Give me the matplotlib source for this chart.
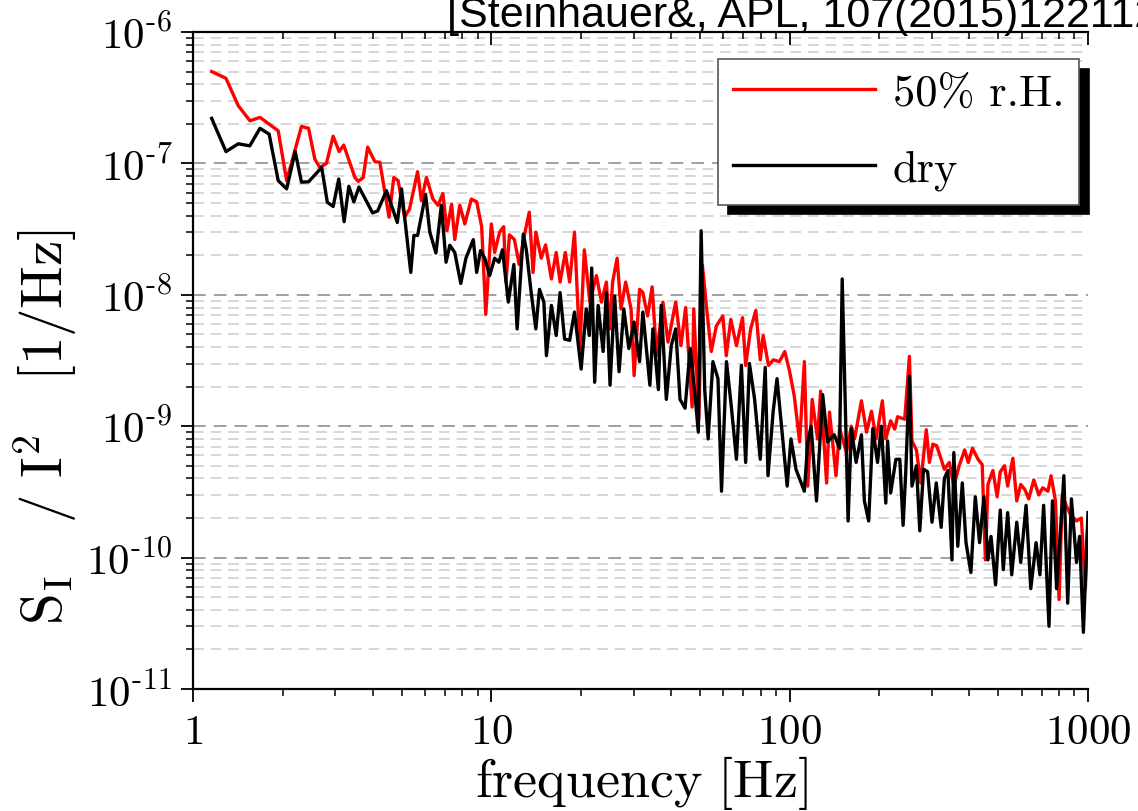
import matplotlib
matplotlib.use("Agg")
import matplotlib.pyplot as plt
from matplotlib.ticker import FixedLocator, FuncFormatter, NullFormatter
import numpy as np

plt.rcParams['mathtext.fontset'] = 'cm'

# ---------------- data ----------------
freq_wet = [1.155, 1.29, 1.418, 1.552, 1.677, 1.93, 2.06, 2.31, 2.44, 2.56, 2.66, 2.8, 2.95, 3.09, 3.2,
            3.49, 3.58, 3.72, 3.85, 4.07, 4.23, 4.54, 4.71, 4.87, 5.12, 5.32, 5.66, 5.83, 6.06, 6.37,
            6.63, 6.88, 7.1, 7.36, 7.54, 7.84, 8.15, 8.57, 8.93, 9.28, 9.58, 10.0, 10.26, 10.66, 11.0,
            11.2, 11.5, 11.95, 12.4, 12.9, 13.4, 13.8, 14.1, 14.7, 15.2, 15.9, 16.5, 17.0, 17.7, 18.3,
            19.0, 19.8, 20.5, 21.4, 22.5, 23.4, 24.3, 24.9, 25.5, 26.4, 27.2, 28.2, 29.4, 30.1, 31.4,
            32.2, 33.4, 34.6, 35.8, 37.6, 39.1, 41.5, 43.2, 44.8, 47.1, 47.7, 49.6, 51.0, 52.7, 54.6,
            56.8, 59.7, 61.3, 63.5, 66.3, 69.5, 71.2, 74.0, 77.0, 79.7, 81.5, 84.9, 88.2,
            92.4, 96.3, 100, 103.6, 108, 112, 115, 119, 124, 127, 133, 136, 143, 147, 155, 161, 165,
            174, 181, 188, 195,
            204.5, 210, 218, 225, 230, 243, 252, 257, 266, 275, 287, 294, 302, 311, 322, 330, 343, 355,
            370, 386, 397, 410, 428, 442, 453, 462, 480, 496, 508, 525, 538, 560, 577, 595, 614, 633,
            658, 684, 705, 734, 752, 778, 800, 820, 845, 875, 915, 950, 980, 995]
psd_wet = [5.0e-7, 4.44e-7, 2.75e-7, 2.11e-7, 2.24e-7, 1.77e-7, 7.4e-8, 1.91e-7, 1.85e-7, 1.08e-7, 9.3e-8,
           1.0e-7, 1.61e-7, 1.23e-7, 1.38e-7, 7.8e-8, 7.3e-8, 7.8e-8, 1.33e-7, 1.03e-7, 1.02e-7, 3.9e-8,
           7.8e-8, 7.4e-8, 3.9e-8, 4.5e-8, 8.65e-8, 5.2e-8, 7.8e-8, 5.35e-8, 4.8e-8, 5.9e-8, 3.08e-8,
           4.9e-8, 2.63e-8, 4.8e-8, 3.46e-8, 5.35e-8, 5.1e-8, 3.3e-8, 7.1e-9, 3.46e-8, 2.1e-8, 3.0e-8,
           3.3e-8, 1.25e-8, 2.86e-8, 2.63e-8, 1.7e-8, 2.83e-8, 4.25e-8, 1.48e-8, 3.0e-8, 1.9e-8, 2.4e-8,
           1.32e-8, 2.1e-8, 1.25e-8, 2.1e-8, 1.25e-8, 3.0e-8, 3.87e-9, 2.2e-8, 8.77e-9, 1.4e-8, 8.8e-9,
           1.25e-8, 5.5e-9, 1.25e-8, 1.9e-8, 7.8e-9, 1.25e-8, 7.8e-9, 2.43e-9, 1.1e-8, 1.04e-8, 6.9e-9,
           1.15e-8, 3.44e-9, 8.8e-9, 4.36e-9, 8.8e-9, 4.1e-9, 8.0e-9, 1.4e-9, 7.8e-9, 1.13e-9, 1.67e-8,
           7.8e-9, 3.7e-9, 5.8e-9, 6.9e-9, 3.44e-9, 6.5e-9, 4.1e-9, 6.7e-9, 2.9e-9, 5.5e-9, 7.6e-9,
           3.2e-9, 4.9e-9, 2.9e-9, 3.2e-9,
           3.1e-9, 3.7e-9, 2.6e-9, 1.7e-9, 7.6e-10, 3.1e-9, 3.5e-10, 1.6e-9, 8.0e-10, 1.85e-9, 3.7e-10,
           1.28e-9, 4.2e-10, 9.6e-10, 6.3e-10, 1.0e-9, 8.0e-10, 1.56e-9, 9.0e-10, 1.3e-9, 8.0e-10,
           1.56e-9, 8.0e-10, 1.1e-9, 9.5e-10, 1.18e-9, 1.13e-9, 3.4e-9, 7.7e-10, 6.6e-10, 3.7e-10,
           9.4e-10, 5.3e-10, 7.3e-10, 7.1e-10, 5.6e-10, 4.7e-10, 5.3e-10, 3.5e-10, 5.0e-10, 6.6e-10,
           5.3e-10, 6.8e-10, 5.6e-10, 5.1e-10, 9.6e-11, 3.6e-10, 4.6e-10, 2.9e-10, 4.5e-10, 5.0e-10,
           3.5e-10, 5.7e-10, 2.7e-10, 3.6e-10, 3.3e-10, 2.8e-10, 3.9e-10, 3.0e-10, 3.4e-10, 3.2e-10,
           4.2e-10, 2.7e-10, 4.8e-11, 3.0e-10, 2.5e-10, 2.1e-10, 1.9e-10, 2.0e-10, 5.8e-11, 1.5e-10]

freq_dry = [1.155, 1.29, 1.418, 1.55, 1.677, 1.8, 1.93, 2.06, 2.2, 2.31, 2.44, 2.7, 2.82, 2.95, 3.08, 3.21,
            3.33, 3.46, 3.6, 4.0, 4.16, 4.45, 4.84, 5.0, 5.37, 5.5, 5.66, 6.02, 6.22, 6.52, 6.8, 7.05,
            7.26, 7.54, 7.9, 8.22, 8.7, 8.93, 9.2, 9.5, 9.87, 10.26, 10.6, 10.9, 11.4, 11.9, 12.2, 12.8,
            13.1, 13.6, 14.1, 14.5, 15.0, 15.3, 15.9, 16.5, 17.0, 17.6, 18.3, 19.0, 20.0, 20.8, 21.3,
            21.7, 22.2, 22.8, 23.7, 24.3, 25.0, 25.9, 26.8, 27.8, 28.9, 30.1, 31.4, 32.2, 34.0, 34.8,
            36.3, 37.1, 38.6, 40.1, 41.5,
            42.9, 44.6, 46.4, 48.2, 49.4, 50.5, 51.9, 53.3, 55.3, 57.5, 59.1, 61.4, 63.7, 66.3, 68.9,
            71.2, 73.3, 76.3, 79.7, 82.8, 84.6, 88, 90.7, 94.3, 98.1, 101, 105, 112, 115, 118, 123, 129,
            134, 141, 147, 150, 157, 161, 167, 174, 178, 184, 190, 197,
            203, 210, 213, 218, 227, 234, 240, 245, 252, 257, 266, 273, 281, 290, 300, 310, 322, 330,
            339, 350, 355, 366, 379, 390, 405, 419, 433, 448, 462, 473, 490, 508, 520, 538, 555, 577,
            595, 620, 643, 670, 690, 710, 740, 760, 785, 810, 830, 855, 880, 915, 937, 965, 1000]
psd_dry = [2.2e-7, 1.23e-7, 1.41e-7, 1.36e-7, 1.85e-7, 1.67e-7, 7.4e-8, 6.4e-8, 1.23e-7, 7.2e-8, 7.25e-8,
           9.3e-8, 5.06e-8, 4.7e-8, 7.6e-8, 3.6e-8, 6.7e-8, 5.1e-8, 6.6e-8, 4.2e-8, 4.35e-8, 6.2e-8,
           3.55e-8, 6.4e-8, 1.48e-8, 2.83e-8, 2.83e-8, 5.8e-8, 3.0e-8, 2.08e-8, 4.8e-8, 1.77e-8, 2.38e-8,
           2.1e-8, 1.22e-8, 1.9e-8, 2.63e-8, 1.48e-8, 2.17e-8, 1.9e-8, 1.4e-8, 1.9e-8, 1.77e-8, 2.2e-8,
           8.8e-9, 1.7e-8, 5.5e-9, 2.9e-8, 2.2e-8, 1.04e-8, 5.5e-9, 1.1e-8, 8.8e-9, 3.44e-9, 8.3e-9,
           4.9e-9, 1.04e-8, 4.6e-9, 4.5e-9, 7.4e-9, 2.72e-9, 7.8e-9, 4.9e-9, 1.6e-8, 2.16e-9, 8.3e-9,
           3.7e-9, 1.04e-8, 2.05e-9, 9.8e-9, 2.6e-9, 7.8e-9, 3.9e-9, 6.2e-9, 3.1e-9, 7.4e-9, 2.05e-9,
           5.5e-9, 1.9e-9, 8.3e-9, 1.6e-9, 4.1e-9, 5.5e-9,
           1.6e-9, 1.37e-9, 3.9e-9, 1.7e-9, 9.0e-10, 3.07e-8, 1.9e-9, 8.0e-10, 3.1e-9, 2.3e-9, 3.2e-10,
           3.1e-9, 1.43e-9, 5.6e-10, 2.9e-9, 5.3e-10, 3.0e-9, 1.6e-9, 5.6e-10, 2.8e-9, 4.2e-10, 1.28e-9,
           2.3e-9, 9.0e-10, 3.5e-10, 8.0e-10, 4.7e-10, 3.2e-10, 7.6e-10, 1.0e-9, 2.7e-10, 1.74e-9,
           7.6e-10, 8.6e-10, 6.8e-10, 1.32e-8, 1.9e-10, 9.6e-10, 5.3e-10, 8.6e-10, 2.7e-10, 1.9e-10,
           9.6e-10, 5.3e-10,
           1.0e-9, 2.6e-10, 7.7e-10, 3.1e-10, 5.6e-10, 5.6e-10, 1.76e-10, 4.5e-10, 2.4e-9, 3.5e-10,
           5.0e-10, 1.6e-10, 4.7e-10, 4.5e-10, 1.86e-10, 3.7e-10, 1.7e-10, 4.0e-10, 4.6e-10, 9.6e-11,
           6.3e-10, 1.22e-10, 3.7e-10, 1.3e-10, 7.7e-11, 2.9e-10, 1.3e-10, 2.9e-10, 9.6e-11, 1.45e-10,
           6.2e-11, 2.3e-10, 8.1e-11, 2.2e-10, 7.4e-11, 1.86e-10, 9.2e-11, 2.5e-10, 5.8e-11, 1.3e-10,
           7.4e-11, 2.5e-10, 3.0e-11, 2.7e-10, 5.8e-11, 1.7e-10, 4.2e-10, 4.5e-11, 2.8e-10, 9.2e-11,
           1.45e-10, 2.7e-11, 2.2e-10]

labels = ['50% r.H.', 'dry']
colors = ['#ff0000', '#000000']
x_ticks = [1, 10, 100, 1000]
y_ticks = [1e-11, 1e-10, 1e-9, 1e-8, 1e-7, 1e-6]

# ---------------- figure ----------------
W, H = 1138, 812
fig = plt.figure(figsize=(W/100, H/100), dpi=100)
ax = fig.add_axes([193/W, 1-690/H, (1088-193)/W, (690-33)/H])

ax.plot(freq_wet, psd_wet, color=colors[0], lw=2.4, label=labels[0])
ax.plot(freq_dry, psd_dry, color=colors[1], lw=2.4, label=labels[1])

ax.set_xscale('log')
ax.set_yscale('log')
ax.set_xlim(1, 1000)
ax.set_ylim(1e-11, 1e-6)

# grid: dashed horizontal lines at major (darker) and minor (lighter) y positions
minor_y = [m * 10.0**e for e in range(-11, -6) for m in range(2, 10)]
for yv in minor_y:
    ax.axhline(yv, color='#cccccc', lw=1.1, ls=(0, (7, 4.5)), zorder=0)
for yv in y_ticks[1:-1]:
    ax.axhline(yv, color='#999999', lw=1.3, ls=(0, (7, 4.5)), zorder=0)

ax.xaxis.set_major_locator(FixedLocator(x_ticks))
ax.xaxis.set_major_formatter(FuncFormatter(lambda v, p: r'$%d$' % int(round(v))))
ax.xaxis.set_minor_locator(FixedLocator([m * 10.0**e for e in range(0, 3) for m in range(2, 10)]))
ax.xaxis.set_minor_formatter(NullFormatter())
ax.yaxis.set_major_locator(FixedLocator(y_ticks))
ax.yaxis.set_major_formatter(FuncFormatter(
    lambda v, p: r'$10^{\text{-}%d}$' % abs(int(round(np.log10(v))))))
ax.yaxis.set_minor_locator(FixedLocator(minor_y))
ax.yaxis.set_minor_formatter(NullFormatter())

ax.spines['right'].set_visible(False)
for s in ['left', 'bottom', 'top']:
    ax.spines[s].set_linewidth(1.6)
ax.tick_params(axis='both', which='major', labelsize=31, width=1.3, length=9, direction='out', pad=6)
ax.tick_params(axis='both', which='minor', width=1.1, length=5, direction='out')
ax.tick_params(axis='x', which='both', top=True)
for t in ax.xaxis.get_major_ticks() + ax.xaxis.get_minor_ticks():
    t.tick2line.set_marker(3)   # top ticks point inward

fig.text(642/W, 1-797/H, r'$\mathrm{frequency\ [Hz]}$', fontsize=39, ha='center', va='baseline')
fig.text(45/W, 1-427/H, r'$\mathrm{S_I\ \ \ /\ I^2\ \ \ [1/Hz]}$', fontsize=41,
         ha='center', va='center', rotation=90)

leg = ax.legend(loc='upper right', bbox_to_anchor=((1079-193)/895, (690-60)/657),
                borderaxespad=0, prop={'family': 'cmr10', 'size': 32}, frameon=True,
                fancybox=False, handlelength=3.2, handletextpad=0.4, borderpad=0.33,
                labelspacing=0.8,
                shadow={'ox': 7, 'oy': -7, 'facecolor': 'black', 'edgecolor': 'black', 'alpha': 1})
leg.get_frame().set_edgecolor('#555555')
leg.get_frame().set_linewidth(1.2)
for l in leg.get_lines():
    l.set_linewidth(2.4)

fig.text(447/W, 1-27/H, '[Steinhauer&, APL, 107(2015)122112]',
         fontsize=31, family='Liberation Sans', ha='left', va='baseline')

fig.savefig('out.png', dpi=100)
